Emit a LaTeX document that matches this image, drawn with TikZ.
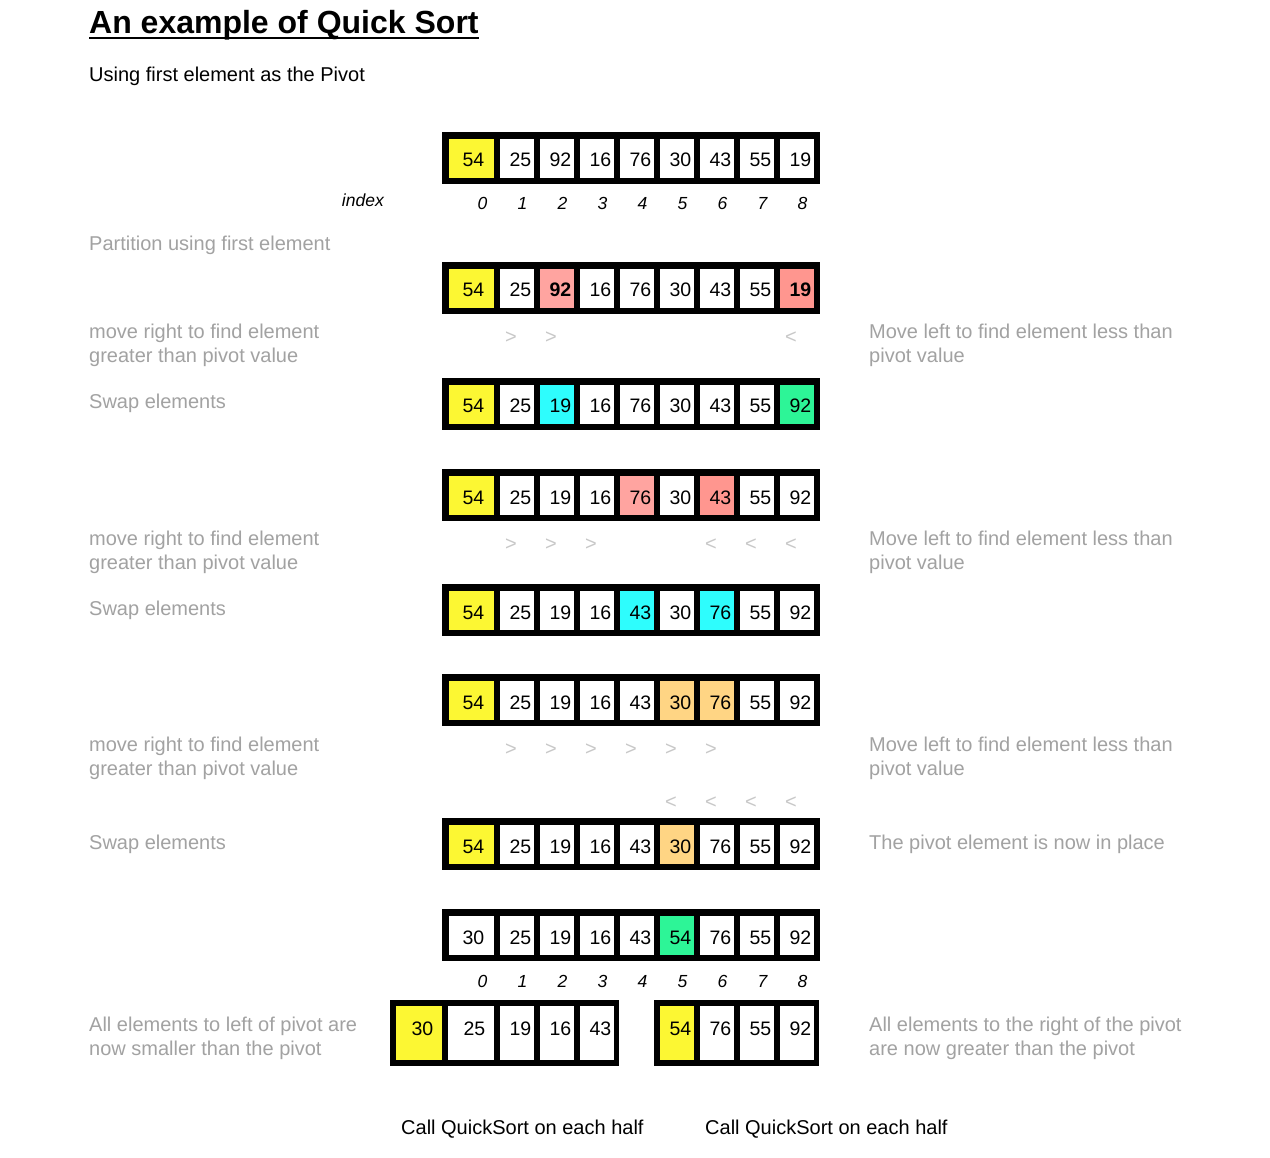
\documentclass[tikz,border=0pt]{standalone}
\usepackage{fontspec}
\setmainfont{Liberation Sans}
\definecolor{yel}{HTML}{FCF733}
\definecolor{salmA}{HTML}{FFA4A0}
\definecolor{salmB}{HTML}{FF968F}
\definecolor{cyn}{HTML}{2EFDFD}
\definecolor{grn}{HTML}{2DF597}
\definecolor{org}{HTML}{FFD584}
\definecolor{notegrey}{HTML}{A2A2A2}
\definecolor{ptrgrey}{HTML}{C8C8C8}
\tikzset{
  frame/.style={fill=black, inner sep=0pt, outer sep=0pt, anchor=north west},
  cellbox/.style={inner sep=0pt, outer sep=0pt, anchor=north west, minimum height=39pt},
  num/.style={inner sep=0pt, anchor=base east, font=\fontsize{19.5}{22}\selectfont},
  idx/.style={inner sep=0pt, anchor=base, font=\fontsize{17.5}{20}\selectfont\itshape},
  note/.style={inner sep=0pt, anchor=base west, text=notegrey, font=\fontsize{20}{24}\selectfont},
  ptr/.style={inner sep=0pt, anchor=base, text=ptrgrey, font=\fontsize{20}{24}\selectfont},
  plain/.style={inner sep=0pt, anchor=base west, font=\fontsize{20}{24}\selectfont},
}
\newcommand{\qsrow}[3]{%
  \node[frame, minimum width=378pt, minimum height=52pt] (#1) at (442,#2) {};
  \foreach \val/\col [count=\j from 0] in {#3} {
    \pgfmathsetmacro{\cx}{\j==0 ? 449 : 500+40*(\j-1)}
    \pgfmathsetmacro{\cw}{\j==0 ? 45 : 34}
    \pgfmathsetmacro{\tx}{\j==0 ? 484.5 : 531.5+40*(\j-1)}
    \node[cellbox, fill=\col, minimum width=\cw pt] (#1-\j) at (\cx,#2+7) {};
    \node[num] (#1-v\j) at (\tx,#2+35) {\val};
  }
}
\begin{document}
\begin{tikzpicture}[x=1pt,y=-1pt]
\useasboundingbox (0,0) rectangle (1270,1158);
\fill[white] (0,0) rectangle (1270,1158);

% title
\node[plain, font=\fontsize{32}{36}\selectfont\bfseries] (title) at (89,34) {An example of Quick Sort};
\draw[line width=2pt] ([yshift=-4.5pt]title.base west) -- ([yshift=-4.5pt]title.base east);
\node[plain] (sub) at (89,82) {Using first element as the Pivot};

% arrays
\qsrow{r1}{132}{54/yel,25/white,92/white,16/white,76/white,30/white,43/white,55/white,19/white}
\qsrow{r2}{262}{54/yel,25/white,\textbf{92}/salmA,16/white,76/white,30/white,43/white,55/white,\textbf{19}/salmB}
\qsrow{r3}{378}{54/yel,25/white,19/cyn,16/white,76/white,30/white,43/white,55/white,92/grn}
\qsrow{r4}{469}{54/yel,25/white,19/white,16/white,76/salmA,30/white,43/salmB,55/white,92/white}
\qsrow{r5}{584}{54/yel,25/white,19/white,16/white,43/cyn,30/white,76/cyn,55/white,92/white}
\qsrow{r6}{674}{54/yel,25/white,19/white,16/white,43/white,30/org,76/org,55/white,92/white}
\qsrow{r7}{818}{54/yel,25/white,19/white,16/white,43/white,30/org,76/white,55/white,92/white}
\qsrow{r8}{909}{30/white,25/white,19/white,16/white,43/white,54/grn,76/white,55/white,92/white}

% index rows
\node[inner sep=0pt, anchor=base east, font=\fontsize{17.5}{20}\selectfont\itshape] (idxlabel) at (384,207) {index};
\foreach \k in {0,...,8} {
  \node[idx] (ia\k) at (482.5+40*\k,210) {\k};
  \node[idx] (ib\k) at (482.5+40*\k,987) {\k};
}

% split arrays
\node[frame, minimum width=229pt, minimum height=66pt] (left) at (390,1000) {};
\node[cellbox, fill=yel, minimum width=46pt, minimum height=54pt] (l0) at (396,1006) {};
\node[cellbox, fill=white, minimum width=46pt, minimum height=54pt] (l1) at (448,1006) {};
\node[cellbox, fill=white, minimum width=34pt, minimum height=54pt] (l2) at (500,1006) {};
\node[cellbox, fill=white, minimum width=34pt, minimum height=54pt] (l3) at (540,1006) {};
\node[cellbox, fill=white, minimum width=34pt, minimum height=54pt] (l4) at (580,1006) {};
\node[num] (lv0) at (433.5,1035) {30};
\node[num] (lv1) at (485.5,1035) {25};
\node[num] (lv2) at (531.5,1035) {19};
\node[num] (lv3) at (571.5,1035) {16};
\node[num] (lv4) at (611.5,1035) {43};

\node[frame, minimum width=165pt, minimum height=66pt] (right) at (654,1000) {};
\node[cellbox, fill=yel, minimum width=34pt, minimum height=54pt] (q0) at (660,1006) {};
\node[cellbox, fill=white, minimum width=34pt, minimum height=54pt] (q1) at (700,1006) {};
\node[cellbox, fill=white, minimum width=34pt, minimum height=54pt] (q2) at (740,1006) {};
\node[cellbox, fill=white, minimum width=34pt, minimum height=54pt] (q3) at (780,1006) {};
\node[num] (qv0) at (691.5,1035) {54};
\node[num] (qv1) at (731.5,1035) {76};
\node[num] (qv2) at (771.5,1035) {55};
\node[num] (qv3) at (811.5,1035) {92};

% pointer marks
\foreach \k in {1,2} { \node[ptr] (p1g\k) at (511+40*\k-40,344) {>}; }
\node[ptr] (p1l8) at (791,344) {<};
\foreach \k in {1,2,3} { \node[ptr] (p2g\k) at (511+40*\k-40,550) {>}; }
\foreach \k in {6,7,8} { \node[ptr] (p2l\k) at (511+40*\k-40,550) {<}; }
\foreach \k in {1,...,6} { \node[ptr] (p3g\k) at (511+40*\k-40,755) {>}; }
\foreach \k in {5,...,8} { \node[ptr] (p3l\k) at (511+40*\k-40,808) {<}; }

% left notes
\node[note] (n1) at (89,251) {Partition using first element};
\node[note] (m1a) at (89,339) {move right to find element};
\node[note] (m1b) at (89,363) {greater than pivot value};
\node[note] (s1) at (89,409) {Swap elements};
\node[note] (m2a) at (89,545) {move right to find element};
\node[note] (m2b) at (89,569) {greater than pivot value};
\node[note] (s2) at (89,615) {Swap elements};
\node[note] (m3a) at (89,751) {move right to find element};
\node[note] (m3b) at (89,775) {greater than pivot value};
\node[note] (s3) at (89,849) {Swap elements};
\node[note] (la) at (89,1031) {All elements to left of pivot are};
\node[note] (lb) at (89,1055) {now smaller than the pivot};

% right notes
\node[note] (k1a) at (869,339) {Move left to find element less than};
\node[note] (k1b) at (869,363) {pivot value};
\node[note] (k2a) at (869,545) {Move left to find element less than};
\node[note] (k2b) at (869,569) {pivot value};
\node[note] (k3a) at (869,751) {Move left to find element less than};
\node[note] (k3b) at (869,775) {pivot value};
\node[note] (pv) at (869,849) {The pivot element is now in place};
\node[note] (ra) at (869,1031) {All elements to the right of the pivot};
\node[note] (rb) at (869,1055) {are now greater than the pivot};

% bottom
\node[plain] (c1) at (401,1134) {Call QuickSort on each half};
\node[plain] (c2) at (705,1134) {Call QuickSort on each half};
\end{tikzpicture}
\end{document}
